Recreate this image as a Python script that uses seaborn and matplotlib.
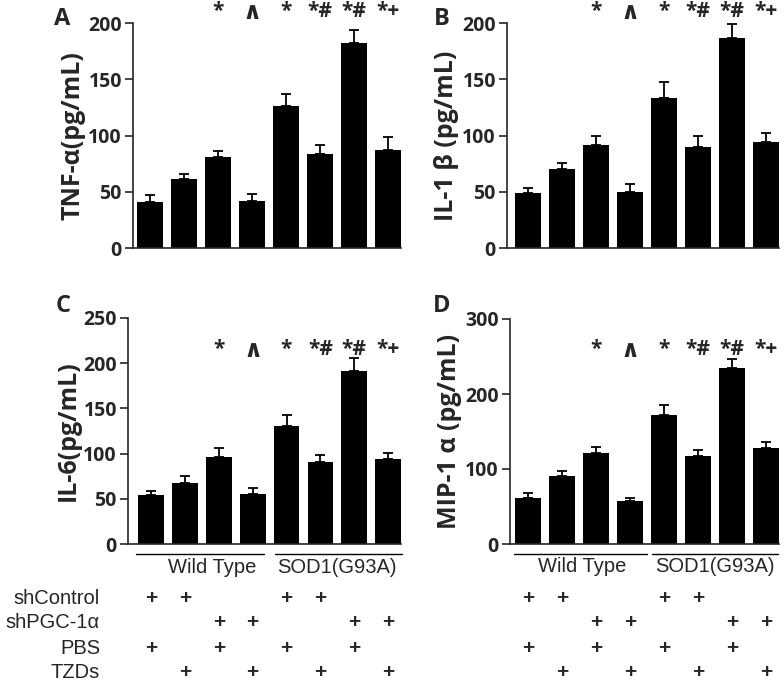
import numpy as np
import pandas as pd
import matplotlib
matplotlib.use("Agg")
import matplotlib.pyplot as plt
import matplotlib.transforms as mtransforms
import seaborn as sns

# ---------------- data ----------------
groups = ["WT shControl PBS", "WT shControl TZDs", "WT shPGC-1α PBS", "WT shPGC-1α TZDs",
          "SOD1 shControl PBS", "SOD1 shControl TZDs", "SOD1 shPGC-1α PBS", "SOD1 shPGC-1α TZDs"]

tnf_mean = [41, 61, 81, 42, 126, 84, 182, 87]
tnf_err = [6, 5, 5, 6, 11, 8, 12, 12]
il1b_mean = [49, 70, 92, 50, 133, 90, 187, 94]
il1b_err = [4, 6, 8, 7, 15, 10, 12, 8]
il6_mean = [54, 67, 96, 55, 131, 91, 191, 94]
il6_err = [5, 8, 10, 7, 12, 8, 15, 7]
mip_mean = [62, 91, 122, 57, 172, 118, 235, 128]
mip_err = [6, 6, 7, 4, 14, 8, 12, 8]

marks = ["", "", "*", "∧", "*", "*#", "*#", "*+"]

row_labels = ["shControl", "shPGC-1α", "PBS", "TZDs"]
sh_control = [1, 1, 0, 0, 1, 1, 0, 0]
sh_pgc = [0, 0, 1, 1, 0, 0, 1, 1]
pbs = [1, 0, 1, 0, 1, 0, 1, 0]
tzds = [0, 1, 0, 1, 0, 1, 0, 1]

sns.set_style("ticks")
BOLD = ["Open Sans", "DejaVu Sans"]
PLAIN = ["Liberation Sans", "DejaVu Sans"]
plt.rcParams["font.family"] = BOLD

W, H = 784, 683
fig = plt.figure(figsize=(W / 100, H / 100), dpi=100)


def px_axes(left, top, right, bottom):
    return fig.add_axes([left / W, 1 - bottom / H, (right - left) / W, (bottom - top) / H])


panels = [
    dict(box=(133, 23, 401, 248), mean=tnf_mean, err=tnf_err, ylim=200, step=50,
         label="TNF-α(pg/mL)", letter="A", xl=-0.51, mark_y=210, letter_xy=(62, 19), groups=False),
    dict(box=(507, 23, 779, 248), mean=il1b_mean, err=il1b_err, ylim=200, step=50,
         label="IL-1 β (pg/mL)", letter="B", xl=-0.62, mark_y=210, letter_xy=(442, 19), groups=False),
    dict(box=(128, 318, 401, 544), mean=il6_mean, err=il6_err, ylim=250, step=50,
         label="IL-6(pg/mL)", letter="C", xl=-0.68, mark_y=215, letter_xy=(63, 306), groups=True,
         lines=[(-0.45, 3.35), (3.65, 7.4)], textx=[1.8, 5.5]),
    dict(box=(510, 319, 779, 544), mean=mip_mean, err=mip_err, ylim=300, step=100,
         label="MIP-1 α (pg/mL)", letter="D", xl=-0.53, mark_y=259, letter_xy=(442, 306), groups=True,
         lines=[(-0.4, 3.5), (3.65, 7.35)], textx=[1.6, 5.5]),
]

axes = []
for p in panels:
    ax = px_axes(*p["box"])
    axes.append(ax)
    df = pd.DataFrame({"group": groups, "value": p["mean"]})
    sns.barplot(data=df, x="group", y="value", order=groups, color="black",
                saturation=1, width=0.76, errorbar=None, linewidth=0, ax=ax)
    xs = np.arange(len(groups))
    ax.errorbar(xs, p["mean"], yerr=[np.zeros(len(xs)), p["err"]], fmt="none",
                ecolor="black", elinewidth=1.3, capsize=3.5, capthick=1.3, zorder=3)
    ax.set_xlim(p["xl"], 7.38)
    ax.set_ylim(0, p["ylim"])
    ax.set_yticks(np.arange(0, p["ylim"] + 1, p["step"]))
    ax.set_xticks([])
    ax.set_xlabel("")
    ax.set_ylabel(p["label"], fontsize=18, fontweight="bold", family=BOLD, labelpad=2)
    ax.tick_params(axis="y", labelsize=14, length=6, width=1.2, direction="out", pad=2)
    for t in ax.get_yticklabels():
        t.set_fontweight("bold")
    for s in ["top", "right"]:
        ax.spines[s].set_visible(False)
    ax.spines["left"].set_linewidth(1.2)
    ax.spines["bottom"].set_linewidth(1.2)
    for i, m in enumerate(marks):
        if m == "∧":
            ax.text(i, p["mark_y"], m, ha="center", va="center", fontsize=17,
                    fontweight="bold", family=["DejaVu Sans"], clip_on=False)
        elif m:
            ax.text(i, p["mark_y"], m, ha="center", va="center", fontsize=15,
                    fontweight="bold", family=BOLD, clip_on=False)
    fig.text(p["letter_xy"][0] / W, 1 - p["letter_xy"][1] / H, p["letter"],
             fontsize=17, fontweight="bold", ha="center", va="center", family=BOLD)
    if p["groups"]:
        tr = ax.get_xaxis_transform()
        for (a, b), tx, name in zip(p["lines"], p["textx"], ["Wild Type", "SOD1(G93A)"]):
            ax.plot([a, b], [-0.044, -0.044], color="black", lw=1.0, transform=tr, clip_on=False)
            ax.text(tx, -0.06, name, transform=tr, ha="center", va="top",
                    fontsize=14.5, family=PLAIN)

# ---------------- treatment table ----------------
row_y = [598, 623, 648, 672]
rows = [sh_control, sh_pgc, pbs, tzds]
for lab, yy in zip(row_labels, row_y):
    fig.text(100 / W, 1 - yy / H, lab, ha="right", va="center", fontsize=14.5, family=PLAIN)
for ax in (axes[2], axes[3]):
    tr = mtransforms.blended_transform_factory(ax.transData, fig.transFigure)
    for flags, yy in zip(rows, row_y):
        for i, f in enumerate(flags):
            if f:
                fig.text(i, 1 - yy / H, "+", transform=tr, ha="center", va="center",
                         fontsize=15, fontweight="bold", family=PLAIN)

fig.savefig("out.png", dpi=100)
